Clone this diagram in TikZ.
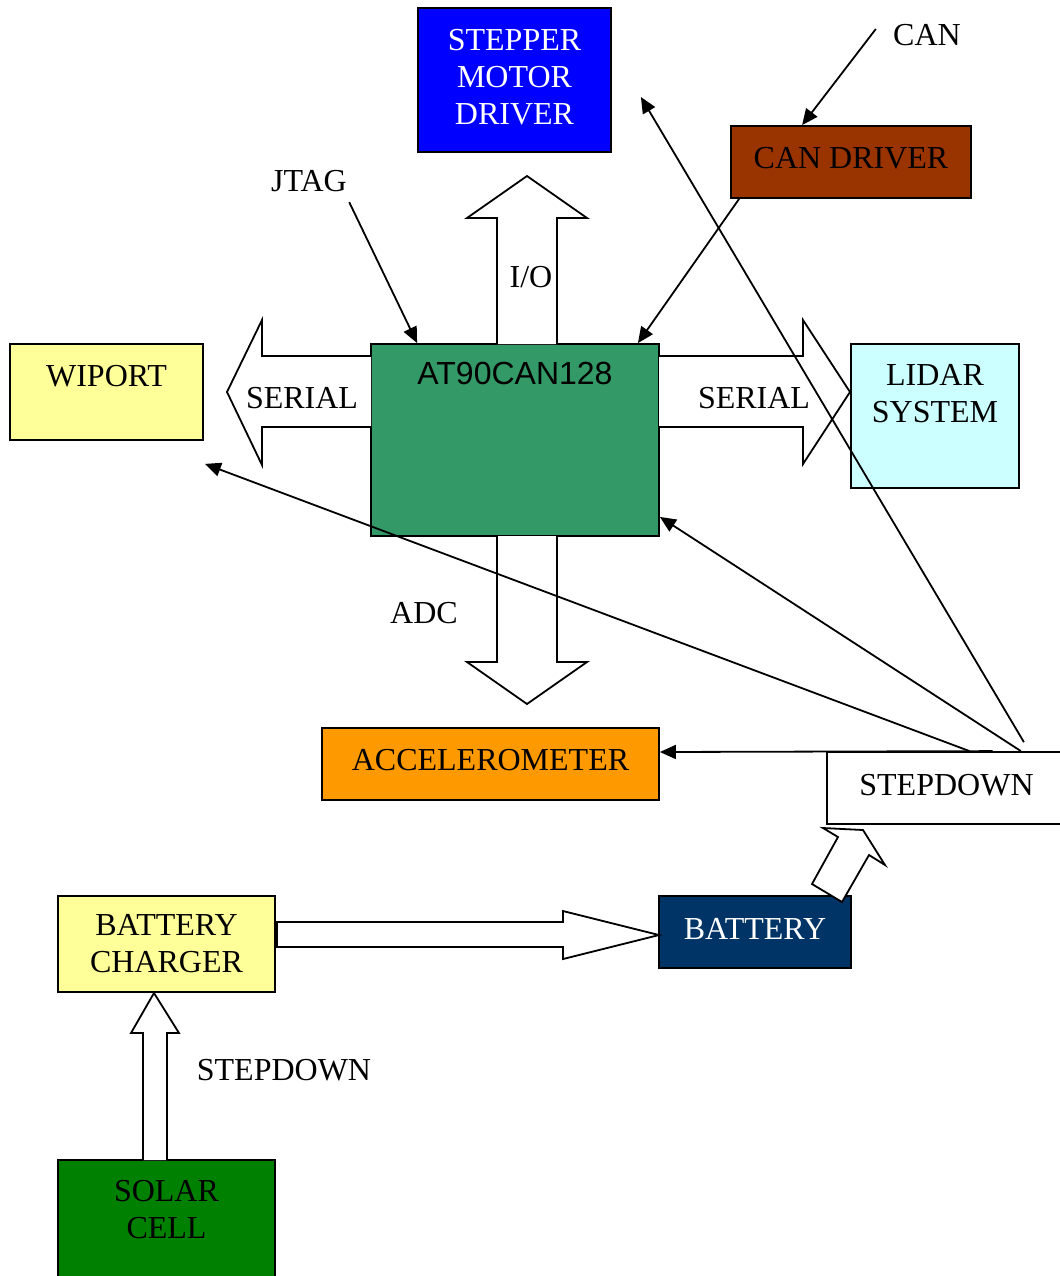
\documentclass[tikz,border=0pt]{standalone}
\usepackage{fontspec}
\setmainfont{Liberation Serif}
\newfontfamily\arialfont{Liberation Sans}
\usetikzlibrary{arrows.meta,positioning,calc}

\definecolor{bluedrv}{RGB}{0,0,255}
\definecolor{browncan}{RGB}{153,51,0}
\definecolor{paleyel}{RGB}{255,255,153}
\definecolor{mcugreen}{RGB}{51,153,102}
\definecolor{palecyan}{RGB}{204,255,255}
\definecolor{accorange}{RGB}{255,153,0}
\definecolor{battblue}{RGB}{0,51,102}
\definecolor{solargreen}{RGB}{0,128,0}

\tikzset{
  blk/.style={draw, line width=0.9pt, inner sep=0pt, align=center,
    font=\fontsize{16}{18.5}\selectfont},
  lbl/.style={inner sep=1pt, font=\fontsize{16}{18.5}\selectfont},
  thin/.style={line width=0.9pt, -{Triangle[length=8pt,width=7pt]}},
  fat/.style={draw, line width=0.9pt, fill=white, line join=miter}
}

\begin{document}
\begin{tikzpicture}[x=0.5pt,y=-0.5pt]
  \useasboundingbox (0,0) rectangle (1060,1276);

  % blocks
  \node[blk, fill=bluedrv, text=white, minimum width=96.5pt, minimum height=72pt]
    (stepper) at (514.5,80) {\raisebox{3pt}{\begin{tabular}{@{}c@{}}STEPPER\\MOTOR\\DRIVER\end{tabular}}};
  \node[blk, fill=browncan, minimum width=120pt, minimum height=36pt]
    (candrv) at (851,162) {\raisebox{4.5pt}{CAN DRIVER}};
  \node[blk, fill=paleyel, minimum width=96.5pt, minimum height=48pt]
    (wiport) at (106.5,392) {};
  \node[blk, fill=mcugreen, minimum width=144pt, minimum height=96pt]
    (mcu) at (515,440) {};
  \node[blk, fill=palecyan, minimum width=84pt, minimum height=72pt]
    (lidar) at (935,416) {};
  \node[blk, fill=accorange, minimum width=168.5pt, minimum height=36pt]
    (accel) at (490.5,764) {\raisebox{4pt}{ACCELEROMETER}};
  \node[blk, fill=white, minimum width=117.5pt, minimum height=36pt]
    (stepdn) at (944.5,788) {\raisebox{3pt}{\hspace{2pt}STEPDOWN}};
  \node[blk, fill=battblue, text=white, minimum width=96pt, minimum height=36pt]
    (battery) at (755,932) {\raisebox{3.5pt}{BATTERY}};
  \node[blk, fill=paleyel, minimum width=108.5pt, minimum height=48pt]
    (charger) at (166.5,944) {BATTERY\\CHARGER};
  \node[blk, fill=solargreen, minimum width=108.5pt, minimum height=65pt]
    (solar) at (166.5,1225) {};

  % texts at the top of the boxes
  \node[lbl, anchor=north] at ([yshift=-10pt]wiport.north) {WIPORT};
  \node[lbl, anchor=north, font=\arialfont\fontsize{16}{18.5}\selectfont]
    at ([yshift=-8.5pt]mcu.north) {AT90CAN128};
  \node[lbl, anchor=north, align=center] at ([yshift=-9.5pt]lidar.north) {LIDAR\\SYSTEM};
  \node[lbl, anchor=north, align=center] at ([yshift=-9.5pt]solar.north) {SOLAR\\CELL};

  % block arrows
  \draw[fat] (497,344) -- (497,218) -- (467,218) -- (527,176) -- (587,218)
    -- (557,218) -- (557,344);
  \draw[fat] (497,536) -- (497,662) -- (467,662) -- (527,704) -- (587,662)
    -- (557,662) -- (557,536);
  \draw[fat] (371,356) -- (262,356) -- (262,320) -- (227,392) -- (262,465)
    -- (262,427) -- (371,427);
  \draw[fat] (659,356) -- (803,356) -- (803,320) -- (850,392) -- (803,464)
    -- (803,427) -- (659,427);
  \draw[fat] (277,922) -- (563,922) -- (563,911) -- (659,935) -- (563,959)
    -- (563,947) -- (277,947) -- cycle;
  \draw[fat] (143,1160) -- (143,1033) -- (131,1033) -- (154,993) -- (179,1033)
    -- (167,1033) -- (167,1160);
  \draw[fat] (823,828) -- (863,830) -- (885,865) -- (869,855) -- (842,902)
    -- (812,884) -- (838,837) -- cycle;

  % labels
  \node[lbl] (io) at (531,277) {I/O};
  \node[lbl] (adc) at (424,613) {ADC};
  \node[lbl] (serl) at (302,398) {SERIAL};
  \node[lbl] (serr) at (754,398) {SERIAL};
  \node[lbl] (sdlbl) at (284,1070) {STEPDOWN};
  \node[lbl] (jtag) at (309,181) {JTAG};
  \node[lbl] (can) at (927,35) {CAN};

  % thin connectors
  \draw[thin] ([yshift=-4pt]jtag.south east) -- ([xshift=23.5pt]mcu.north west);
  \draw[thin] ([xshift=-7.5pt,yshift=3pt]can.west) -- ([xshift=36pt]candrv.north west);
  \draw[thin] ([xshift=4.5pt]candrv.south west) -- ([xshift=-11pt]mcu.north east);
  \draw[thin] ([xshift=-19.5pt,yshift=4.5pt]stepdn.north east) -- ([xshift=14.5pt,yshift=-8.5pt]stepper.east);
  \draw[thin] ([xshift=-21pt]stepdn.north east) -- ([yshift=10pt]mcu.south east);
  \draw[thin] ([xshift=12.5pt]stepdn.north) -- ([xshift=0.5pt,yshift=-11.5pt]wiport.south east);
  \draw[thin] ([xshift=24pt]stepdn.north) -- ([yshift=6pt]accel.east);
\end{tikzpicture}
\end{document}
